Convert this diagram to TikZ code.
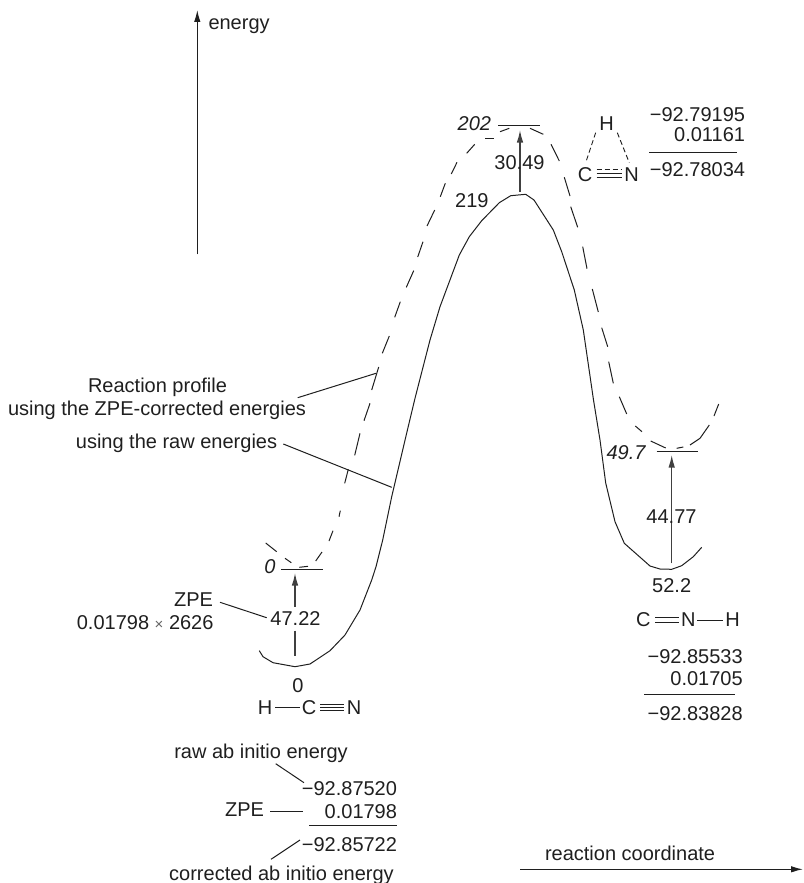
\documentclass[tikz,border=0pt]{standalone}
\usepackage{fontspec}
\setmainfont{Liberation Sans}
\usetikzlibrary{arrows.meta}
\definecolor{ink}{gray}{0.12}
\tikzset{
  lbl/.style={inner sep=0pt,outer sep=0pt,text=ink,font=\fontsize{20}{22}\selectfont},
  lblb/.style={lbl,anchor=base},
  lblw/.style={lbl,anchor=base west},
  lble/.style={lbl,anchor=base east},
  ital/.style={lbl,anchor=base east,font=\fontsize{20}{22}\selectfont\itshape},
  curve/.style={draw=ink,line width=1pt,line join=round},
  dashpiece/.style={draw=ink,line width=1pt,line join=round},
  leader/.style={draw=ink,line width=1pt},
  rulex/.style={draw=ink,line width=1pt},
  level/.style={draw=ink,line width=1pt},
  bond/.style={draw=ink,line width=0.9pt},
  dashedbond/.style={draw=ink,line width=0.9pt,dash pattern=on 5pt off 3pt},
  arrowx/.style={draw=ink!85,line width=1.3pt,-{Latex[length=12.5pt,width=6.5pt]}},
  axisx/.style={draw=ink,line width=1.2pt,-{Latex[length=12pt,width=6.5pt]}}
}
\begin{document}
\begin{tikzpicture}[x=1pt,y=-1pt]
\useasboundingbox (0,0) rectangle (803,883);

% solid profile
\path[curve] (259.3,650.7) -- (263,656.7) -- (273,662.7) -- (295,666.7) -- (310,664) -- (330,650.7) -- (345,635) -- (360,610) -- (371.7,580) -- (376,566.7) -- (382.7,540) -- (391.7,496.7) -- (406.7,433) -- (415,398.3) -- (430,340) -- (440,306.7) -- (459.3,255) -- (469.3,236.7) -- (481.7,220.7) -- (499.3,202.7) -- (510.7,195.7) -- (525.7,194.3) -- (534,200) -- (553.3,230) -- (561.7,251.7) -- (574.3,290) -- (583.3,330) -- (593.5,400) -- (600,440) -- (605.7,483) -- (615,521.7) -- (624.3,543.3) -- (650,566) -- (660,569) -- (671.7,569.3) -- (681.7,565.7) -- (693.3,556.7) -- (701.7,547.3);

% dashed profile, piece by piece
\foreach \a/\b in {
  {265.7,543}/{276.7,551.7},
  {285,558.3}/{291.3,562.7},
  {299.3,567.3}/{308,566.3},
  {315.7,561}/{322,552},
  {329,541}/{333,530.7},
  {339,516.7}/{340.3,510.7},
  {344.7,483.3}/{348.3,469.3},
  {354.7,455.3}/{360,433.3},
  {364,420.7}/{370,403.3},
  {371.7,390}/{378.7,367},
  {382.3,353.3}/{389.3,336},
  {394.7,317.3}/{400.3,301.7},
  {406.3,287.3}/{413.7,270.7},
  {417.7,257}/{423,241.7},
  {427,226}/{434.7,210},
  {440.3,196.7}/{445.3,183.3},
  {451.3,174}/{457,162.3},
  {466.7,153.3}/{474.7,144.3},
  {485,138.3}/{494,138.3},
  {500,131.7}/{509.3,128.3},
  {530,128.3}/{543.3,134.3},
  {551,144.3}/{559.3,161},
  {564.3,177.3}/{570,196},
  {570.7,206.7}/{577.7,227.3},
  {582.7,246.7}/{587,268.7},
  {592.3,289}/{598.3,312},
  {601.7,327.7}/{607.7,346.7},
  {608.7,361.7}/{613.3,383.3},
  {619.3,396.7}/{626.7,414},
  {635.3,426}/{642,431.7},
  {650.7,441}/{665.7,448},
  {676.7,448.3}/{683.3,447},
  {714,416}/{718.7,404}}
  {\path[dashpiece] (\a) -- (\b);}
\path[dashpiece] (690,445) -- (700,438.3) -- (709.3,425);

% levels
\coordinate (lvAa) at (498.3,125.3); \coordinate (lvAb) at (540,125.3);
\coordinate (lvBa) at (281,569); \coordinate (lvBb) at (322.7,569);
\coordinate (lvCa) at (656.7,451.3); \coordinate (lvCb) at (698.3,451.3);
\path[level] (lvAa) -- (lvAb);
\path[level] (lvBa) -- (lvBb);
\path[level] (lvCa) -- (lvCb);

% axes
\coordinate (eTop) at (197.3,10); \coordinate (eBot) at (197.3,254.3);
\coordinate (rL) at (520,869.3); \coordinate (rR) at (803,869.3);
\path[axisx] (eBot) -- (eTop);
\path[axisx] (rL) -- (rR);
\node[lblw] (tEnergy) at (208.5,30) {energy};
\node[lblw] (tReact) at (545,860) {reaction coordinate};

% energy labels
\node[ital] (t202) at (491,130.7) {202};
\node[ital] (t0i) at (275.5,573.3) {0};
\node[ital] (t497) at (645.5,459.3) {49.7};
\node[lble] (t219) at (488.5,207.7) {219};
\node[lblb] (t522) at (671.7,592.7) {52.2};
\node[lblb] (t0) at (298,692) {0};

% ZPE arrows
\coordinate (aTop) at (520,130); \coordinate (aBot) at (520,191.7);
\path[arrowx] (aBot) -- (aTop);
\node[lblb] (t3049) at (519.5,169.7) {30.49};
\coordinate (cTop) at (671.7,455); \coordinate (cBot) at (671.7,563.3);
\path[arrowx] (cBot) -- (cTop);
\node[lblb] (t4477) at (671.5,523.7) {44.77};
\coordinate (bTop) at (295,573); \coordinate (bBot) at (295,656);
\node[lblb] (t4722) at (295.5,625) {47.22};
\path[arrowx] (295,606.7) -- (bTop);
\path[draw=ink!85,line width=1.3pt] (295,630.7) -- (bBot);

% ZPE note
\node[lble] (tZPEa) at (213,606) {ZPE};
\node[lble] (tZPEb) at (213.5,629) {0.01798 {\color{ink!70}\fontsize{15}{16}\selectfont×} 2626};
\path[leader] (220,602.3) -- (266.7,617.7);

% profile notes
\node[lblb] (tRP) at (157.5,392.3) {Reaction profile};
\node[lblb] (tRZ) at (157,415.7) {using the ZPE-corrected energies};
\node[lblb] (tRR) at (176.5,448.3) {using the raw energies};
\path[leader] (297.7,397.7) -- (376,373.3);
\path[leader] (283.3,444) -- (391.7,487.3);

% HCN
\node[lblb] (mH) at (265,714) {H};
\node[lblb] (mC) at (309,714) {C};
\node[lblb] (mN) at (354,714) {N};
\path[bond] (275,707.3) -- (300,707.3);
\path[bond] (320,704) -- (344.3,704);
\path[bond] (320,707.3) -- (344.3,707.3);
\path[bond] (320,710.6) -- (344.3,710.6);

% bottom-left sum
\node[lblb] (tRaw) at (261,758.3) {raw ab initio energy};
\node[lble] (n1) at (397,795) {−92.87520};
\node[lble] (n2) at (397,818.3) {0.01798};
\node[lble] (n3) at (397,851) {−92.85722};
\node[lblb] (tCor) at (281.5,880) {corrected ab initio energy};
\node[lble] (tZPEc) at (264,816.7) {ZPE};
\path[rulex] (309,825.7) -- (396.7,825.7);
\path[leader] (275.7,763.7) -- (304,782.7);
\path[leader] (270,811) -- (303.3,811);
\path[leader] (271,859.3) -- (300,840);

% CNH
\node[lblb] (kC) at (643.3,626.7) {C};
\node[lblb] (kN) at (688.3,626.7) {N};
\node[lblb] (kH) at (732.7,626.7) {H};
\path[bond] (655,617.4) -- (679.3,617.4);
\path[bond] (655,622.4) -- (679.3,622.4);
\path[bond] (697.3,620) -- (722.7,620);
\node[lble] (p1) at (742.7,663.3) {−92.85533};
\node[lble] (p2) at (742.7,685) {0.01705};
\node[lble] (p3) at (742.7,720) {−92.83828};
\path[rulex] (644,694.7) -- (735.3,694.7);

% transition state
\node[lblb] (sH) at (606.7,130.7) {H};
\node[lblb] (sC) at (585,181.7) {C};
\node[lblb] (sN) at (631.7,181.7) {N};
\path[dashedbond] (595.7,132.7) -- (585.7,162.7);
\path[dashedbond] (617.3,132.7) -- (629.3,162.7);
\path[dashedbond] (596.7,169.3) -- (621.7,169.3);
\path[bond] (596.7,173.3) -- (621.7,173.3);
\path[bond] (596.7,177.3) -- (621.7,177.3);
\node[lble] (q1) at (745,121) {−92.79195};
\node[lble] (q2) at (745,141.7) {0.01161};
\node[lble] (q3) at (745,176) {−92.78034};
\path[rulex] (649.3,152.7) -- (736.7,152.7);
\end{tikzpicture}
\end{document}
